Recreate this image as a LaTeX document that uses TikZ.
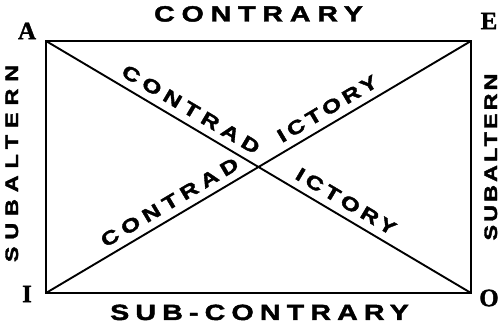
\documentclass[tikz,border=0pt]{standalone}
\usepackage{fontspec}
\usepackage{tikz}
\newfontfamily\widesans[FakeStretch=1.3,FakeBold=2]{Liberation Sans}
\newfontfamily\cornerserif[FakeBold=1.5]{Liberation Serif}

\begin{document}
\begin{tikzpicture}[x=1pt,y=1pt,
    corner/.style={font=\cornerserif\bfseries\fontsize{25}{28}\selectfont,inner sep=0pt},
    edgelab/.style={font=\widesans\bfseries\fontsize{22}{25}\selectfont,inner sep=0pt,anchor=base},
    sidelab/.style={font=\widesans\bfseries\fontsize{18}{21}\selectfont,inner sep=0pt,anchor=base,rotate=90},
    diaglab/.style={font=\widesans\bfseries\fontsize{19}{22}\selectfont,inner sep=0pt,anchor=base,sloped,yshift=8.5pt}]
  \useasboundingbox (0,0) rectangle (498,331);
  \coordinate (A) at (46,290);
  \coordinate (E) at (471,290);
  \coordinate (I) at (46,38);
  \coordinate (O) at (471,38);
  \node[corner] (labA) at (27,300) {A};
  \node[corner] (labE) at (489,310) {E};
  \node[corner] (labI) at (27,37) {I};
  \node[corner] (labO) at (489,33) {O};
  \node[edgelab] (contrary) at (258.5,309.5) {\addfontfeatures{LetterSpace=31}CONTRARY};
  \node[edgelab] (subcontrary) at (259.5,11) {\addfontfeatures{LetterSpace=28}SUB-CONTRARY};
  \node[sidelab] (subleft) at (18,167.5) {\addfontfeatures{LetterSpace=38}SUBALTERN};
  \node[sidelab] (subright) at (497,174) {\addfontfeatures{LetterSpace=17}SUBALTERN};
  \draw[line width=1.9pt] (A) -- (E) -- (O) -- (I) -- cycle;
  \draw[line width=1.9pt] (A) -- (O)
    node[diaglab,pos=0.323] (conupper) {\addfontfeatures{LetterSpace=29}CONTRAD}
    node[diaglab,pos=0.688] (ictlower) {\addfontfeatures{LetterSpace=22}ICTORY};
  \draw[line width=1.9pt] (I) -- (E)
    node[diaglab,pos=0.309] (conlower) {\addfontfeatures{LetterSpace=29}CONTRAD}
    node[diaglab,pos=0.680] (ictupper) {\addfontfeatures{LetterSpace=22}ICTORY};
\end{tikzpicture}
\end{document}
